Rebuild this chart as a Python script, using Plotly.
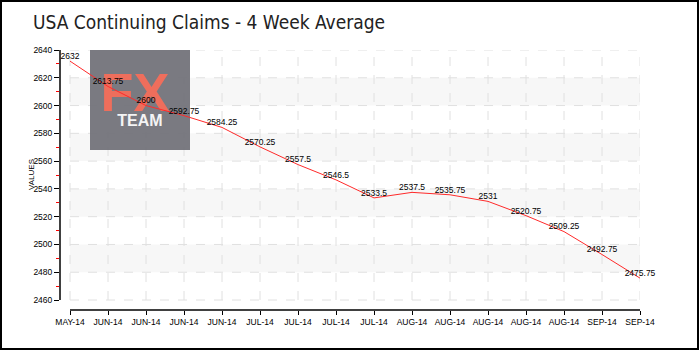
import plotly.graph_objects as go

# Weekly 4-week average of continuing claims (thousands)
labels = ["MAY-14", "JUN-14", "JUN-14", "JUN-14", "JUN-14", "JUL-14", "JUL-14",
          "JUL-14", "JUL-14", "AUG-14", "AUG-14", "AUG-14", "AUG-14", "AUG-14",
          "SEP-14", "SEP-14"]
values = [2632, 2613.75, 2600, 2592.75, 2584.25, 2570.25, 2557.5, 2546.5,
          2533.5, 2537.5, 2535.75, 2531, 2520.75, 2509.25, 2492.75, 2475.75]
y_ticks = list(range(2460, 2641, 20))
y_minor = list(range(2470, 2631, 20))
band_ranges = [(2600, 2620), (2560, 2580), (2520, 2540), (2480, 2500)]

W, H = 700, 350
ML, MR, MT, MB = 60, 60, 50, 40
plot_w = W - ML - MR
plot_h = H - MT - MB

n = len(values)
x_idx = list(range(n))
# leave a 10px gap between the axes and the data area
x_unit = (plot_w - 10) / (n - 1)
y_unit = (plot_h - 10) / (y_ticks[-1] - y_ticks[0])
x_range = [-10 / x_unit, n - 1]
y_range = [y_ticks[0] - 10 / y_unit, y_ticks[-1]]


def px_to_data(px, py):
    """Convert page pixel position to data coordinates."""
    dx = x_range[0] + (px - ML) / plot_w * (x_range[1] - x_range[0])
    dy = y_range[1] - (py - MT) / plot_h * (y_range[1] - y_range[0])
    return dx, dy


def px_to_paper(px, py):
    return (px - ML) / plot_w, (H - MB - py) / plot_h


shapes = []
# alternating horizontal bands
for lo, hi in band_ranges:
    shapes.append(dict(type="rect", xref="x", yref="y", x0=0, x1=n - 1, y0=lo, y1=hi,
                       fillcolor="#f7f7f7", line=dict(width=0), layer="below"))
# dashed grid
for v in y_ticks:
    shapes.append(dict(type="line", xref="x", yref="y", x0=0, x1=n - 1, y0=v, y1=v,
                       line=dict(color="#e0e0e0", width=1, dash="dash"), layer="below"))
for i in x_idx:
    shapes.append(dict(type="line", xref="x", yref="y", x0=i, x1=i,
                       y0=y_ticks[0], y1=y_ticks[-1],
                       line=dict(color="#e0e0e0", width=1, dash="dash"), layer="below"))
# translucent logo box over the grid
bx0, by0 = px_to_data(90, 150)
bx1, by1 = px_to_data(190, 50)
shapes.append(dict(type="rect", xref="x", yref="y", x0=bx0, x1=bx1, y0=by0, y1=by1,
                   fillcolor="#73737a", opacity=0.95, line=dict(width=0), layer="below"))
# axis lines
shapes.append(dict(type="line", xref="paper", yref="y", x0=0, x1=0,
                   y0=y_ticks[0], y1=y_ticks[-1], line=dict(color="black", width=1.5)))
shapes.append(dict(type="line", xref="x", yref="paper", x0=0, x1=n - 1, y0=0, y1=0,
                   line=dict(color="black", width=1.5)))
# outer frame
fx0, fy0 = px_to_paper(1, 349)
fx1, fy1 = px_to_paper(698, 1)
shapes.append(dict(type="rect", xref="paper", yref="paper", x0=fx0, x1=fx1, y0=fy0, y1=fy1,
                   line=dict(color="black", width=2)))

fig = go.Figure()

# logo lettering (drawn before the series so the line stays on top)
fx, fy = px_to_data(135, 97)
tx, ty = px_to_data(140, 122)
fig.add_trace(go.Scatter(x=[fx], y=[fy], mode="text", text=["<b>FX</b>"],
                         textfont=dict(family="Liberation Sans", size=54, color="#ee6e5c"),
                         textposition="middle center", hoverinfo="skip", showlegend=False,
                         cliponaxis=False))
fig.add_trace(go.Scatter(x=[tx], y=[ty], mode="text", text=["<b>TEAM</b>"],
                         textfont=dict(family="Liberation Sans", size=16, color="#f4f4f4"),
                         textposition="middle center", hoverinfo="skip", showlegend=False,
                         cliponaxis=False))

fig.add_trace(go.Scatter(
    x=x_idx, y=values, mode="lines+text",
    text=[f"{v:g}" for v in values],
    textposition="top center",
    textfont=dict(family="Liberation Sans", size=8.5, color="black"),
    line=dict(color="#ff2a2a", width=1),
    cliponaxis=False, showlegend=False,
))

vx, vy = px_to_paper(31, 175)
fig.update_layout(
    width=W, height=H, autosize=False,
    margin=dict(l=ML, r=MR, t=MT, b=MB),
    paper_bgcolor="white", plot_bgcolor="white",
    title=dict(text="USA Continuing Claims - 4 Week Average",
               font=dict(family="DejaVu Sans Condensed, sans-serif",
                         size=19, color="#222222"),
               x=33 / W, xanchor="left", xref="container",
               y=1 - 22 / H, yanchor="middle", yref="container"),
    shapes=shapes,
    annotations=[dict(text="VALUES", xref="paper", yref="paper", x=vx, y=vy,
                      textangle=-90, showarrow=False, xanchor="center", yanchor="middle",
                      font=dict(family="Liberation Sans", size=8, color="black"))],
    xaxis=dict(range=x_range, tickmode="array", tickvals=x_idx, ticktext=labels,
               showgrid=False, zeroline=False, showline=False,
               ticks="outside", ticklen=4, tickcolor="black", tickwidth=1,
               tickfont=dict(family="Liberation Sans", size=8.5, color="black")),
    yaxis=dict(range=y_range, tickmode="array", tickvals=y_ticks,
               showgrid=False, zeroline=False, showline=False,
               ticks="outside", ticklen=5, tickcolor="black", tickwidth=1,
               tickfont=dict(family="Liberation Sans", size=8.5, color="black"),
               minor=dict(tickmode="array", tickvals=y_minor, ticks="outside",
                          ticklen=3, tickcolor="red", showgrid=False)),
)

fig.write_html("out.html")
